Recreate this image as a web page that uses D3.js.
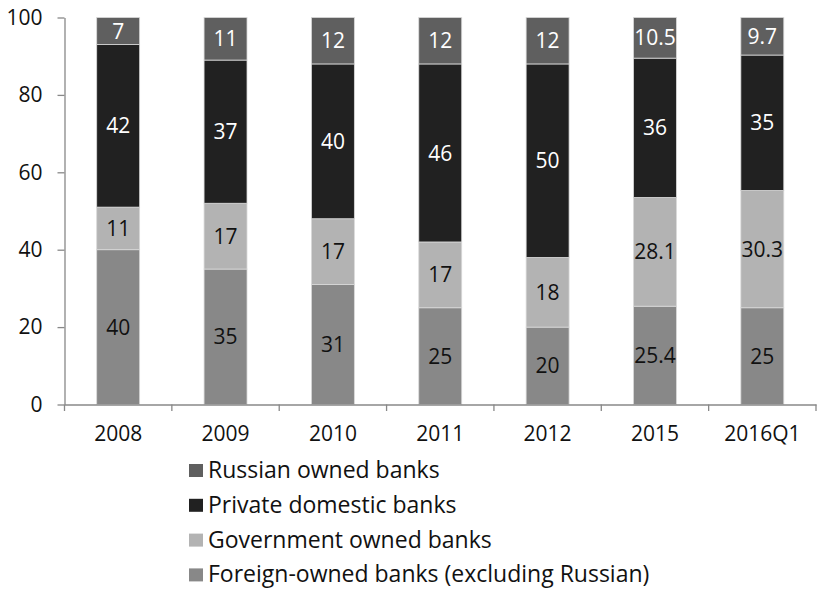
<!DOCTYPE html>
<html>
<head>
<meta charset="utf-8">
<script src="https://cdn.jsdelivr.net/npm/d3@7"></script>
<style>
  html, body { margin: 0; padding: 0; background: #fff; }
  svg { display: block; font-family: "Open Sans", "Liberation Sans", sans-serif; }
</style>
</head>
<body>
<svg id="chart" width="817" height="591"></svg>
<script>
const categories = ["2008", "2009", "2010", "2011", "2012", "2015", "2016Q1"];
const seriesNames = ["Foreign-owned banks (excluding Russian)", "Government owned banks", "Private domestic banks", "Russian owned banks"];
const foreignOwned = [40, 35, 31, 25, 20, 25.4, 25];
const governmentOwned = [11, 17, 17, 17, 18, 28.1, 30.3];
const privateDomestic = [42, 37, 40, 46, 50, 36, 35];
const russianOwned = [7, 11, 12, 12, 12, 10.5, 9.7];
const yTicks = [0, 20, 40, 60, 80, 100];
const legendOrder = ["Russian owned banks", "Private domestic banks", "Government owned banks", "Foreign-owned banks (excluding Russian)"];

const FONT = "'Open Sans', 'Liberation Sans', sans-serif";
const colors = {
  "Foreign-owned banks (excluding Russian)": "#888888",
  "Government owned banks": "#b3b3b3",
  "Private domestic banks": "#212121",
  "Russian owned banks": "#5f5f5f"
};
const labelColors = {
  "Foreign-owned banks (excluding Russian)": "#111",
  "Government owned banks": "#111",
  "Private domestic banks": "#fff",
  "Russian owned banks": "#fff"
};

const seriesValues = [foreignOwned, governmentOwned, privateDomestic, russianOwned];
const table = categories.map((c, i) => {
  const row = { cat: c };
  seriesNames.forEach((s, j) => row[s] = seriesValues[j][i]);
  return row;
});
const stacked = d3.stack().keys(seriesNames)(table);

const svg = d3.select("#chart");
const x = d3.scaleBand().domain(categories).range([64.5, 816]).padding(0);
const y = d3.scaleLinear().domain([0, 100]).range([404.5, 17.5]);
const barW = x.bandwidth() * 0.4;
const axisColor = "#888";

// bars
const groups = svg.append("g").selectAll("g").data(stacked).join("g")
  .attr("fill", d => colors[d.key]);
groups.selectAll("rect").data(d => d.map(p => ({ p, key: d.key }))).join("rect")
  .attr("x", d => x(d.p.data.cat) + (x.bandwidth() - barW) / 2)
  .attr("y", d => y(d.p[1]))
  .attr("width", barW)
  .attr("height", d => y(d.p[0]) - y(d.p[1]))
  .attr("stroke", "#d9d9d9")
  .attr("stroke-width", 0.8);

// labels
svg.append("g").selectAll("g").data(stacked).join("g")
  .selectAll("text").data(d => d.map(p => ({ p, key: d.key }))).join("text")
  .attr("x", d => x(d.p.data.cat) + x.bandwidth() / 2)
  .attr("y", d => (y(d.p[0]) + y(d.p[1])) / 2)
  .attr("dy", "0.36em")
  .attr("text-anchor", "middle")
  .attr("font-size", 21)
  .attr("fill", d => labelColors[d.key])
  .text(d => d.p.data[d.key]);

// y axis
const yAxis = svg.append("g").attr("transform", "translate(64.5,0)")
  .call(d3.axisLeft(y).tickValues(yTicks).tickSize(7).tickPadding(15).tickSizeOuter(0));
yAxis.selectAll("path, line").attr("stroke", axisColor).attr("stroke-width", 1.3);
yAxis.selectAll("text").attr("font-size", 21).attr("fill", "#111").attr("font-family", FONT);

// x axis
const xAxis = svg.append("g").attr("transform", "translate(0,404.5)")
  .call(d3.axisBottom(x).tickSize(0).tickPadding(22).tickSizeOuter(0));
xAxis.select("path").attr("stroke", axisColor).attr("stroke-width", 1.3);
xAxis.selectAll("text").attr("font-size", 21).attr("fill", "#111").attr("font-family", FONT);
// boundary ticks between categories
const bounds = categories.map(c => x(c)).concat([x.range()[1]]);
svg.append("g").selectAll("line").data(bounds).join("line")
  .attr("x1", d => d).attr("x2", d => d)
  .attr("y1", 404.5).attr("y2", 411)
  .attr("stroke", axisColor).attr("stroke-width", 1.3);

// legend
const legend = svg.append("g").attr("transform", "translate(189,0)");
const lg = legend.selectAll("g").data(legendOrder).join("g")
  .attr("transform", (d, i) => `translate(0,${470 + i * 34.8})`);
lg.append("rect").attr("x", 0).attr("y", -6).attr("width", 14).attr("height", 13)
  .attr("fill", d => colors[d]);
lg.append("text").attr("x", 19).attr("y", 0).attr("dy", "0.35em")
  .attr("font-size", 23).attr("fill", "#111").text(d => d);
</script>
</body>
</html>
